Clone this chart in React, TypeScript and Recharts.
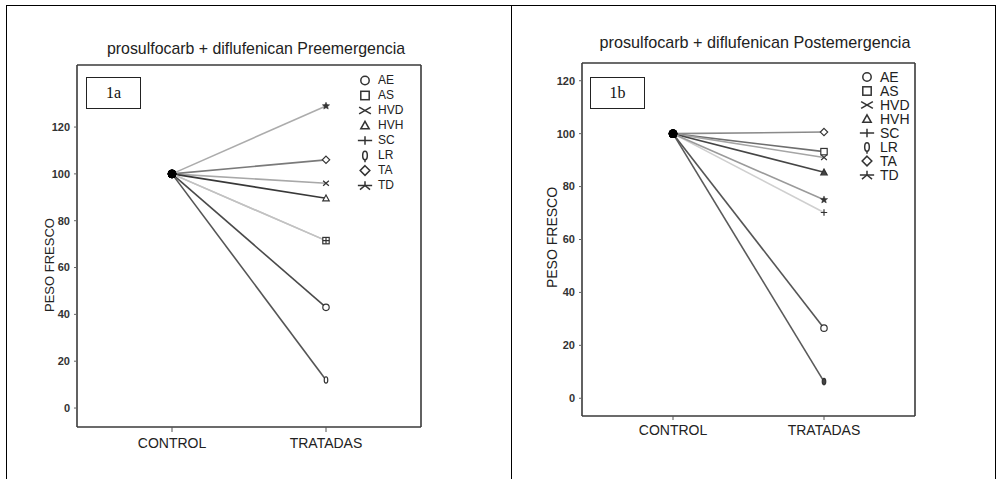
import React from 'react';
import { LineChart, Line, XAxis, YAxis, Legend } from 'recharts';

const CATEGORIES = ['CONTROL', 'TRATADAS'];
const SPECIES = ['AE', 'AS', 'HVD', 'HVH', 'SC', 'LR', 'TA', 'TD'];
const CONTROL_PRE = [100, 100, 100, 100, 100, 100, 100, 100];
const TRATADAS_PRE = [43, 71.5, 96, 89.6, 71.5, 12, 106, 129];
const CONTROL_POST = [100, 100, 100, 100, 100, 100, 100, 100];
const TRATADAS_POST = [26.5, 93.2, 91, 85.4, 70.2, 6.3, 100.6, 75];
const Y_TICKS = [0, 20, 40, 60, 80, 100, 120];
const TITLE_PRE = 'prosulfocarb + diflufenican Preemergencia';
const TITLE_POST = 'prosulfocarb + diflufenican Postemergencia';
const Y_LABEL = 'PESO FRESCO';
const PANEL_PRE = '1a';
const PANEL_POST = '1b';

const SHAPES: Record<string, string> = {
  AE: 'circle', AS: 'square', HVD: 'x', HVH: 'triangle', SC: 'plus', LR: 'ellipse', TA: 'diamond', TD: 'star',
};
const COLORS_PRE: Record<string, string> = {
  AE: '#4a4a4a', AS: '#c2c2c2', HVD: '#a8a8a8', HVH: '#383838', SC: '#c2c2c2', LR: '#555555', TA: '#7a7a7a', TD: '#acacac',
};
const COLORS_POST: Record<string, string> = {
  AE: '#555555', AS: '#6e6e6e', HVD: '#a5a5a5', HVH: '#454545', SC: '#cfcfcf', LR: '#5a5a5a', TA: '#8a8a8a', TD: '#9a9a9a',
};
const FILLED_POST: Record<string, boolean> = { HVH: true, TD: true, SC: true, LR: true, AE: false };

const FONT = "'Liberation Sans', Arial, sans-serif";

function buildRows(control: number[], treated: number[]) {
  return CATEGORIES.map((cat, ci) => {
    const row: Record<string, any> = { cat };
    SPECIES.forEach((sp, i) => {
      row[sp] = ci === 0 ? control[i] : treated[i];
    });
    return row;
  });
}

function starPoints(cx: number, cy: number, r: number) {
  const pts: string[] = [];
  for (let i = 0; i < 10; i++) {
    const rr = i % 2 === 0 ? r : r * 0.45;
    const a = -Math.PI / 2 + (i * Math.PI) / 5;
    pts.push(`${cx + rr * Math.cos(a)},${cy + rr * Math.sin(a)}`);
  }
  return pts.join(' ');
}

function marker(type: string, cx: number, cy: number, s: number, stroke: string, fill: string, sw: number, legend: boolean) {
  switch (type) {
    case 'circle':
      return <circle cx={cx} cy={cy} r={s} fill={fill} stroke={stroke} strokeWidth={sw} />;
    case 'square':
      return <rect x={cx - s} y={cy - s} width={2 * s} height={2 * s} fill={fill} stroke={stroke} strokeWidth={sw} />;
    case 'x':
      return (
        <g stroke={stroke} strokeWidth={sw}>
          <line x1={cx - (legend ? 1.4 : 0.9) * s} y1={cy - 0.8 * s} x2={cx + (legend ? 1.4 : 0.9) * s} y2={cy + 0.8 * s} />
          <line x1={cx - (legend ? 1.4 : 0.9) * s} y1={cy + 0.8 * s} x2={cx + (legend ? 1.4 : 0.9) * s} y2={cy - 0.8 * s} />
        </g>
      );
    case 'triangle':
      return (
        <polygon
          points={`${cx},${cy - s} ${cx + s},${cy + 0.8 * s} ${cx - s},${cy + 0.8 * s}`}
          fill={fill} stroke={stroke} strokeWidth={sw}
        />
      );
    case 'plus':
      return (
        <g stroke={stroke} strokeWidth={sw}>
          <line x1={cx - (legend ? 1.7 : 1) * s} y1={cy} x2={cx + (legend ? 1.7 : 1) * s} y2={cy} />
          <line x1={cx} y1={cy - s} x2={cx} y2={cy + s} />
        </g>
      );
    case 'ellipse':
      return (
        <g>
          <ellipse cx={cx} cy={cy} rx={0.55 * s} ry={s} fill={fill} stroke={stroke} strokeWidth={sw} />
          {legend ? <line x1={cx} y1={cy + s} x2={cx} y2={cy + 1.6 * s} stroke={stroke} strokeWidth={sw} /> : null}
        </g>
      );
    case 'diamond':
      return (
        <polygon
          points={`${cx},${cy - 1.15 * s} ${cx + 1.15 * s},${cy} ${cx},${cy + 1.15 * s} ${cx - 1.15 * s},${cy}`}
          fill={fill} stroke={stroke} strokeWidth={sw}
        />
      );
    case 'star':
      if (legend) {
        return (
          <g stroke={stroke} strokeWidth={sw}>
            <line x1={cx - 1.7 * s} y1={cy} x2={cx + 1.7 * s} y2={cy} />
            <line x1={cx} y1={cy} x2={cx - 1.2 * s} y2={cy + s} />
            <line x1={cx} y1={cy} x2={cx + 1.2 * s} y2={cy + s} />
            <line x1={cx} y1={cy} x2={cx} y2={cy - s} />
          </g>
        );
      }
      return <polygon points={starPoints(cx, cy, s * 1.2)} fill={stroke} stroke={stroke} strokeWidth={0.5} />;
    default:
      return null;
  }
}

type PanelCfg = {
  left: number;
  width: number;
  rows: Record<string, any>[];
  colors: Record<string, string>;
  filled: Record<string, boolean>;
  domain: [number, number];
  margin: { top: number; right: number; bottom: number; left: number };
  pad: number;
  tickSize: number;
  tickMargin: number;
  yLabelDx: number;
  yLabelDy: number;
  yLabelSize: number;
  legendLeft: number;
  legendTop: number;
  legendRow: number;
  legendFont: number;
  legendSym: number;
  title: string;
  titleTop: number;
  titleSize: number;
  titleCenter: number;
  panel: string;
  boxLeft: number;
  boxTop: number;
};

function Panel(cfg: PanelCfg) {
  const axisColor = '#3a3a3a';
  const legendContent = () => (
    <div style={{ fontFamily: FONT, fontSize: cfg.legendFont, color: '#222' }}>
      {SPECIES.map((sp) => (
        <div key={sp} style={{ display: 'flex', alignItems: 'center', height: cfg.legendRow, lineHeight: `${cfg.legendRow}px` }}>
          <svg width={22} height={cfg.legendRow} style={{ overflow: 'visible', flex: 'none' }}>
            {marker(SHAPES[sp], 11, cfg.legendRow / 2, cfg.legendSym, '#333', 'none', 1.5, true)}
          </svg>
          <span style={{ marginLeft: 2, whiteSpace: 'nowrap', lineHeight: `${cfg.legendRow}px` }}>{sp}</span>
        </div>
      ))}
    </div>
  );

  const renderDot = (sp: string) => (props: any) => {
    const { cx, cy, index } = props;
    if (cx == null || cy == null) return <g key={`${sp}-${index}`} />;
    if (index === 0) {
      return (
        <g key={`${sp}-${index}`}>
          <circle cx={cx} cy={cy} r={4} fill="#000" stroke="#000" strokeWidth={0.5} />
        </g>
      );
    }
    const fill = cfg.filled[sp] ? '#444' : '#fff';
    return <g key={`${sp}-${index}`}>{marker(SHAPES[sp], cx, cy, 3.2, '#333', fill, 1.2, false)}</g>;
  };

  const yLabel = (props: any) => {
    const vb = props.viewBox || {};
    const x = vb.x + vb.width / 2 + cfg.yLabelDx;
    const y = vb.y + vb.height / 2 + cfg.yLabelDy;
    return (
      <text
        x={x}
        y={y}
        transform={`rotate(-90, ${x}, ${y})`}
        textAnchor="middle"
        dominantBaseline="central"
        fontFamily={FONT}
        fontSize={cfg.yLabelSize}
        fill="#222"
      >
        {Y_LABEL}
      </text>
    );
  };

  return (
    <div style={{ position: 'absolute', left: cfg.left, top: 0, width: cfg.width, height: 479 }}>
      <div
        style={{
          position: 'absolute',
          left: cfg.titleCenter - 200,
          width: 400,
          top: cfg.titleTop,
          textAlign: 'center',
          fontFamily: FONT,
          fontSize: cfg.titleSize,
          lineHeight: '18px',
          color: '#222',
          whiteSpace: 'nowrap',
        }}
      >
        {cfg.title}
      </div>
      <LineChart width={cfg.width} height={479} data={cfg.rows} margin={cfg.margin}>
        <XAxis
          dataKey="cat"
          type="category"
          padding={{ left: cfg.pad, right: cfg.pad }}
          height={30}
          axisLine={{ stroke: axisColor, strokeWidth: 1.6 }}
          tickLine={{ stroke: '#555' }}
          tickSize={cfg.tickSize}
          tickMargin={cfg.tickMargin}
          tick={{ fontFamily: FONT, fontSize: 14, fill: '#222' }}
          interval={0}
        />
        <XAxis
          xAxisId="top"
          dataKey="cat"
          orientation="top"
          height={1}
          axisLine={{ stroke: axisColor, strokeWidth: 1.6 }}
          tick={false}
          tickLine={false}
        />
        <YAxis
          type="number"
          domain={cfg.domain}
          allowDataOverflow
          ticks={Y_TICKS}
          width={40}
          axisLine={{ stroke: axisColor, strokeWidth: 1.6 }}
          tickLine={{ stroke: '#666' }}
          tickSize={3}
          tickMargin={4}
          tick={{ fontFamily: FONT, fontSize: 11, fill: '#333', fontWeight: 'bold' }}
          label={{ content: yLabel }}
        />
        <YAxis
          yAxisId="right"
          orientation="right"
          type="number"
          domain={[0, 1]}
          width={1}
          axisLine={{ stroke: axisColor, strokeWidth: 1.6 }}
          tick={false}
          tickLine={false}
        />
        <Legend
          layout="vertical"
          align="center"
          verticalAlign="middle"
          content={legendContent}
          wrapperStyle={{ left: cfg.legendLeft, top: cfg.legendTop, width: 80, height: cfg.legendRow * 8 }}
        />
        {SPECIES.map((sp) => (
          <Line
            key={sp}
            dataKey={sp}
            type="linear"
            stroke={cfg.colors[sp]}
            strokeWidth={1.6}
            dot={renderDot(sp)}
            activeDot={false}
            isAnimationActive={false}
            legendType="none"
          />
        ))}
      </LineChart>
      <div
        style={{
          position: 'absolute',
          left: cfg.boxLeft,
          top: cfg.boxTop,
          width: 53,
          height: 30,
          border: '1.5px solid #222',
          background: '#fff',
          fontFamily: "'Liberation Serif', 'Times New Roman', serif",
          fontSize: 16,
          lineHeight: '30px',
          textAlign: 'center',
          color: '#111',
        }}
      >
        {cfg.panel}
      </div>
    </div>
  );
}

export default function App() {
  const rowsPre = buildRows(CONTROL_PRE, TRATADAS_PRE);
  const rowsPost = buildRows(CONTROL_POST, TRATADAS_POST);
  return (
    <div style={{ position: 'absolute', left: 0, top: 0, width: 1001, height: 479, background: '#fff', overflow: 'hidden' }}>
      <div style={{ position: 'absolute', left: 6, top: 5, width: 988, height: 480, borderTop: '1px solid #000', borderLeft: '1px solid #000', borderRight: '1px solid #000' }} />
      <div style={{ position: 'absolute', left: 511, top: 5, width: 1, height: 480, background: '#000' }} />
      <Panel
        left={0}
        width={500}
        rows={rowsPre}
        colors={COLORS_PRE}
        filled={{ HVH: false, TD: true, SC: false, LR: false, AE: false }}
        domain={[-8.1, 146.5]}
        margin={{ top: 64, right: 78, bottom: 22, left: 37 }}
        pad={95}
        tickSize={5}
        tickMargin={6}
        yLabelDx={-8}
        yLabelDy={19}
        yLabelSize={13}
        legendLeft={354}
        legendTop={73}
        legendRow={15}
        legendFont={12}
        legendSym={4.2}
        title={TITLE_PRE}
        titleTop={40}
        titleSize={15.9}
        titleCenter={256}
        panel={PANEL_PRE}
        boxLeft={86}
        boxTop={77}
      />
      <Panel
        left={500}
        width={501}
        rows={rowsPost}
        colors={COLORS_POST}
        filled={FILLED_POST}
        domain={[-6.7, 126.7]}
        margin={{ top: 62, right: 85, bottom: 33, left: 42 }}
        pad={91}
        tickSize={4}
        tickMargin={5}
        yLabelDx={-10}
        yLabelDy={-2}
        yLabelSize={14}
        legendLeft={356}
        legendTop={70}
        legendRow={14}
        legendFont={14}
        legendSym={4.2}
        title={TITLE_POST}
        titleTop={33}
        titleSize={16.2}
        titleCenter={255}
        panel={PANEL_POST}
        boxLeft={90}
        boxTop={77}
      />
    </div>
  );
}
